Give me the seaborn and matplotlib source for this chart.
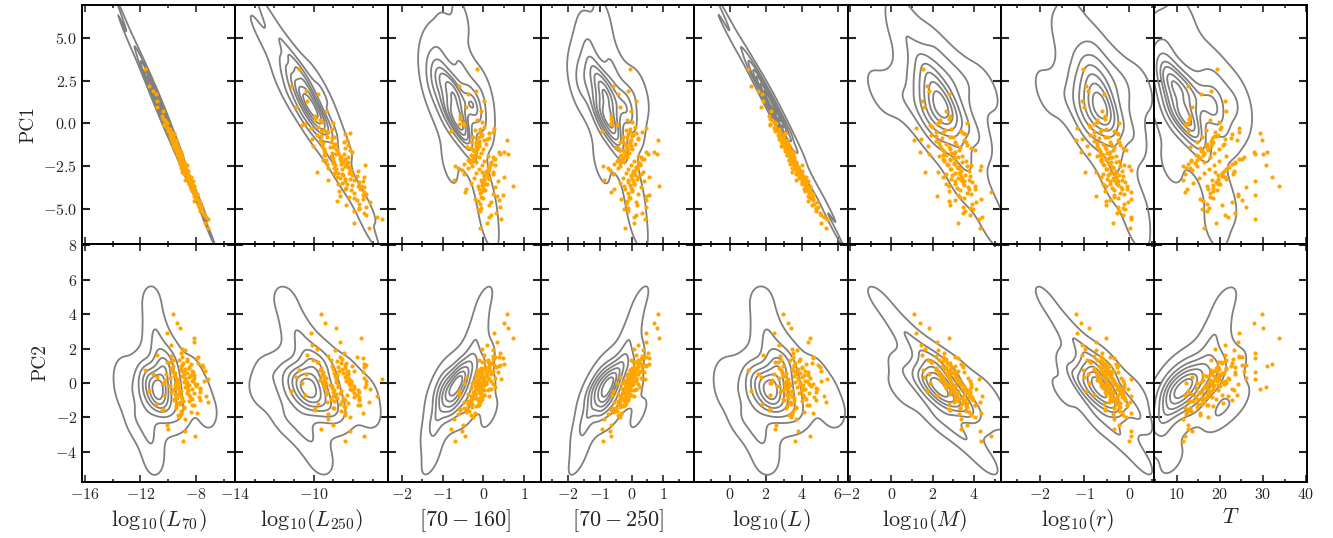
import matplotlib
matplotlib.use("Agg")
import matplotlib.pyplot as plt
import matplotlib.ticker as mticker
import seaborn as sns

# parent sample (grey contours)
pc1_bg = [-6.2, -4.6, -3.4, -2.4, -1.5, -0.9, -0.61, -0.46, -0.32, -0.21,
          -0.10, 0.02, 0.13, 0.22, 0.32, 0.40, 0.50, 0.58, 0.67, 0.75,
          0.83, 0.91, 0.99, 1.07, 1.15, 1.25, 1.33, 1.41, 1.49, 1.57,
          1.65, 1.73, 1.82, 1.90, 2.00, 2.08, 2.18, 2.27, 2.38, 2.50,
          2.61, 2.72, 2.86, 3.01, 3.17, 3.34, 3.7, 4.4, 5.2, 6.2]
pc2_bg = [-1.78, -0.46, 0.67, -1.66, -0.40, 0.76, -1.55, -0.34, 0.84, -1.44,
          -0.26, 0.95, -1.36, -0.20, 1.06, -1.27, -0.14, 1.18, -1.19, -0.08,
          1.31, -1.10, -0.02, 1.7, -1.03, 0.04, 2.4, -0.96, 0.10, 3.3,
          -0.90, 0.17, 4.8, -0.83, 0.23, -4.5, -0.77, 0.30, -3.3, -0.70,
          0.36, -2.6, -0.64, 0.43, -2.1, -0.58, 0.50, -1.91, -0.52, 0.59]
l70_bg = [-7.13, -7.72, -8.45, -9.09, -9.33, -9.75, -9.62, -9.90, -10.09, -9.93,
          -10.11, -10.34, -10.16, -10.32, -10.13, -10.34, -10.52, -10.34, -10.51, -10.75,
          -10.52, -10.68, -10.50, -10.69, -10.86, -10.69, -10.85, -10.58, -10.86, -11.02,
          -10.86, -11.03, -11.22, -11.03, -11.20, -11.00, -11.22, -11.39, -11.23, -11.42,
          -11.65, -11.46, -11.65, -11.50, -11.72, -11.94, -11.92, -12.39, -13.03, -13.21]
l250_bg = [-7.21, -7.39, -8.39, -9.00, -8.87, -9.59, -8.67, -9.45, -9.98, -9.17,
           -9.72, -10.38, -9.49, -10.00, -9.47, -9.76, -10.30, -9.83, -9.98, -10.72,
           -10.09, -10.23, -9.74, -10.37, -10.52, -10.03, -10.65, -9.44, -10.28, -10.98,
           -10.00, -10.53, -11.45, -10.26, -10.75, -9.61, -10.52, -11.05, -10.10, -10.80,
           -11.44, -10.49, -11.10, -10.60, -10.84, -11.45, -11.11, -11.51, -12.69, -12.31]
c160_bg = [0.15, 0.09, -0.03, -0.83, -0.31, -0.34, -0.37, -0.48, -0.46, -0.57,
           -0.56, -0.61, -0.69, -0.66, -0.02, -0.77, -0.78, -0.16, -0.85, -0.97,
           -0.24, -0.93, -0.36, -0.27, -1.04, -0.48, -0.21, -0.37, -0.57, -0.14,
           -0.65, -0.66, 0.02, -0.74, -0.73, -1.29, -0.83, -0.85, -1.22, -0.93,
           -1.01, -1.21, -1.03, -0.46, -1.22, -1.15, -0.63, -1.1, -0.9, -0.55]
c250_bg = [0.22, 0.10, 0.04, -0.95, -0.36, -0.32, -0.52, -0.55, -0.45, -0.71,
           -0.63, -0.60, -0.83, -0.73, 0.00, -0.92, -0.85, -0.14, -0.99, -1.04,
           -0.22, -1.08, -0.43, -0.22, -1.19, -0.55, -0.12, -0.52, -0.64, 0.01,
           -0.79, -0.73, 0.27, -0.88, -0.81, -1.70, -0.98, -0.92, -1.55, -1.08,
           -1.09, -1.50, -1.19, -0.54, -1.48, -1.31, -0.72, -1.4, -1.3, -0.9]
lum_bg = [5.78, 5.27, 4.52, 3.85, 3.68, 3.23, 3.43, 3.11, 2.89, 3.10,
          2.88, 2.62, 2.86, 2.67, 2.92, 2.67, 2.46, 2.69, 2.49, 2.20,
          2.50, 2.31, 2.55, 2.33, 2.12, 2.34, 2.15, 2.50, 2.17, 1.98,
          2.19, 1.99, 1.76, 2.01, 1.81, 2.07, 1.81, 1.60, 1.82, 1.60,
          1.33, 1.58, 1.36, 1.57, 1.31, 1.06, 1.14, 0.65, -0.04, -0.14]
mass_bg = [5.02, 4.57, 3.32, 3.65, 3.44, 2.39, 4.15, 2.96, 2.04, 3.66,
           2.71, 1.64, 3.35, 2.45, 2.55, 3.09, 2.16, 2.18, 2.87, 1.75,
           1.90, 2.61, 2.73, 1.51, 2.33, 2.45, 1.02, 3.41, 2.21, 0.40,
           2.86, 1.97, -0.56, 2.61, 1.76, 4.56, 2.36, 1.47, 3.69, 2.10,
           1.10, 3.09, 1.82, 1.96, 2.63, 1.51, 1.51, 2.04, 0.47, 0.58]
rad_bg = [0.18, 0.16, -0.37, -0.32, -0.26, -0.72, 0.11, -0.46, -0.87, -0.13,
          -0.57, -1.06, -0.28, -0.69, -0.51, -0.40, -0.83, -0.70, -0.51, -1.04,
          -0.83, -0.62, -0.46, -1.00, -0.76, -0.59, -1.20, -0.12, -0.71, -1.46,
          -0.41, -0.82, -1.86, -0.53, -0.92, 0.28, -0.65, -1.06, -0.10, -0.77,
          -1.24, -0.35, -0.90, -0.71, -0.54, -1.04, -0.92, -0.78, -1.49, -1.26]
temp_bg = [19.0, 21.1, 18.4, 8.8, 16.2, 15.6, 20.8, 14.1, 14.4, 14.6,
           13.2, 12.6, 12.1, 12.1, 23.5, 10.8, 10.8, 19.4, 10.0, 8.5,
           17.9, 9.0, 18.3, 17.4, 7.8, 15.6, 18.2, 24.2, 13.9, 19.2,
           14.4, 12.8, 21.3, 12.4, 12.0, 8.9, 10.9, 10.7, 7.3, 9.8,
           8.8, 6.6, 8.6, 18.5, 6.5, 7.4, 14.8, 6.2, 8.0, 11.4]

# selected sources (orange points)
pc1_obs = [-6.1, -5.6, -5.36, -5.10, -4.88, -4.70, -4.54, -4.41, -4.29, -4.17,
           -4.07, -3.97, -3.86, -3.78, -3.69, -3.61, -3.52, -3.44, -3.37, -3.30,
           -3.23, -3.15, -3.08, -3.02, -2.95, -2.90, -2.83, -2.76, -2.70, -2.64,
           -2.57, -2.51, -2.45, -2.39, -2.33, -2.27, -2.21, -2.15, -2.09, -2.03,
           -1.96, -1.90, -1.84, -1.77, -1.71, -1.65, -1.58, -1.52, -1.45, -1.37,
           -1.30, -1.23, -1.16, -1.08, -0.99, -0.91, -0.82, -0.74, -0.63, -0.53,
           -0.43, -0.31, -0.19, -0.06, 0.10, 0.28, 0.7, 1.3, 2.2, 3.2,
           -5.85, -5.45, -5.22, -4.98, -4.79, -4.62, -4.47, -4.35, -4.23, -4.12,
           -4.02, -3.92, -3.82, -3.73, -3.65, -3.56, -3.48, -3.40, -3.33, -3.26,
           -3.19, -3.11, -3.05, -2.98, -2.92, -2.86, -2.80, -2.73, -2.67, -2.60,
           -2.54, -2.48, -2.42, -2.36, -2.30, -2.24, -2.18, -2.12, -2.06, -1.99,
           -1.93, -1.87, -1.80, -1.74, -1.68, -1.61, -1.55, -1.48, -1.41, -1.33,
           -1.26, -1.19, -1.12, -1.03, -0.95, -0.86, -0.78, -0.68, -0.58, -0.48,
           -0.37, -0.25, -0.12, 0.02, 0.19, 0.45, 0.95, 1.7, 1.9, -5.0]
pc2_obs = [-1.13, 0.23, 0.10, -0.27, 1.06, -0.83, 0.44, -1.75, -0.06, 1.43,
           -0.58, 0.68, -1.27, 0.14, 2.6, -0.36, 0.94, -0.94, 0.36, -2.07,
           -0.14, 1.27, -0.68, 0.58, -1.43, 0.06, 1.9, -0.44, 0.83, -1.06,
           0.27, -3.4, -0.23, 1.13, -0.77, 0.49, -1.62, -0.02, 1.52, -0.53,
           0.72, -1.20, 0.18, 3.2, -0.31, 1.00, -0.89, 0.40, -1.89, -0.10,
           1.35, -0.63, 0.63, -1.35, 4.0, 2.2, -0.40, 0.89, -1.00, 0.31,
           -2.7, -0.18, 1.20, -0.72, 0.53, -1.52, 0.02, 1.62, -0.49, 0.77,
           0.70, -0.75, 0.92, -0.55, 1.17, -0.38, 1.48, -0.20, 2.4, -0.04,
           -3.1, 0.12, -1.69, 0.29, -1.31, 0.47, -1.03, 0.65, -0.80, 0.86,
           -0.60, 1.10, -0.42, 1.39, -0.25, 2.0, -0.08, -2.8, 0.08, -1.82,
           0.25, -1.39, 0.42, -1.09, 0.61, -0.86, 0.80, -0.65, 1.03, -0.46,
           1.31, -0.29, 1.72, -0.12, 3.5, 0.04, -2.0, 0.21, -1.48, 0.38,
           -1.16, 0.56, -0.91, 0.75, -0.70, 0.97, -0.51, 1.24, -0.33, 1.58,
           -0.16, 2.9, 0.00, -2.45, 0.16, -1.57, 0.34, -1.23, 0.51, -0.97]
l70_obs = [-7.15, -7.16, -7.45, -7.71, -7.61, -7.82, -8.12, -7.91, -8.09, -7.93,
           -8.13, -8.32, -8.16, -8.32, -8.13, -8.33, -8.51, -8.33, -8.50, -8.79,
           -8.50, -8.66, -8.49, -8.65, -8.84, -8.64, -8.80, -8.60, -8.79, -8.95,
           -8.78, -8.93, -8.64, -8.92, -9.08, -8.90, -9.06, -9.26, -9.05, -9.20,
           -9.01, -9.19, -9.36, -9.18, -9.33, -9.09, -9.34, -9.49, -9.32, -9.49,
           -9.69, -9.49, -9.64, -9.47, -9.66, -9.84, -9.67, -9.83, -9.62, -9.86,
           -10.04, -9.89, -10.08, -10.34, -10.15, -10.36, -10.36, -10.80, -11.39, -11.68,
           -7.39, -7.31, -7.52, -7.71, -7.90, -7.71, -7.88, -8.01, -8.17, -7.95,
           -8.09, -8.21, -8.36, -8.12, -8.27, -8.39, -8.52, -8.26, -8.43, -8.53,
           -8.65, -8.36, -8.55, -8.66, -8.77, -9.01, -8.67, -8.77, -8.89, -9.07,
           -8.78, -8.90, -9.00, -9.15, -8.89, -9.01, -9.11, -9.25, -9.00, -9.12,
           -9.22, -9.36, -9.11, -9.24, -9.35, -9.47, -9.22, -9.36, -9.47, -9.59,
           -9.34, -9.50, -9.60, -9.73, -9.46, -9.65, -9.77, -9.89, -9.57, -9.83,
           -9.97, -10.10, -10.33, -10.06, -10.23, -10.44, -10.82, -10.89, -11.08, -7.71]
l250_obs = [-7.18, -6.52, -7.31, -7.93, -7.31, -7.69, -8.79, -7.47, -8.19, -7.49,
            -7.93, -8.70, -7.65, -8.33, -7.61, -8.05, -8.77, -7.71, -8.42, -9.26,
            -8.13, -8.80, -7.79, -8.49, -8.97, -8.19, -8.90, -7.75, -8.55, -8.94,
            -8.25, -8.41, -7.40, -8.61, -8.99, -8.25, -8.61, -9.50, -8.67, -8.99,
            -8.25, -8.68, -9.45, -8.88, -9.05, -8.06, -8.80, -9.45, -8.40, -9.17,
            -10.04, -8.87, -9.53, -8.46, -9.63, -10.09, -8.97, -9.63, -8.39, -9.36,
            -9.65, -9.05, -9.79, -10.45, -9.55, -9.92, -9.35, -10.36, -11.13, -10.77,
            -7.96, -6.79, -7.45, -7.70, -8.36, -7.12, -7.77, -7.95, -8.66, -7.32,
            -7.45, -8.12, -8.38, -7.41, -7.74, -8.30, -8.54, -7.49, -7.92, -8.42,
            -8.65, -7.45, -8.03, -8.54, -8.75, -9.85, -8.12, -8.17, -8.84, -9.28,
            -8.21, -8.42, -8.93, -9.30, -8.30, -8.52, -9.01, -9.35, -8.39, -8.62,
            -9.12, -9.44, -8.47, -8.76, -9.44, -9.48, -8.15, -8.85, -9.01, -9.58,
            -8.26, -8.96, -9.14, -9.69, -8.28, -9.09, -9.32, -9.84, -8.17, -9.26,
            -9.48, -10.14, -10.60, -9.01, -9.70, -9.93, -10.88, -9.79, -10.40, -7.70]
c160_obs = [-0.09, 0.43, 0.18, -0.07, 0.41, -0.09, -0.14, -0.20, -0.05, 0.48,
            -0.07, -0.03, -0.11, -0.01, 0.72, -0.02, 0.04, -0.03, 0.03, -0.73,
            0.02, 0.12, 0.02, 0.08, -0.48, 0.07, 0.25, 0.11, 0.14, -0.37,
            0.12, -0.70, 0.28, 0.20, -0.31, 0.18, -0.36, -0.29, 0.28, -0.24,
            0.25, -0.28, -0.21, 0.60, -0.19, 0.39, -0.23, -0.15, -0.31, -0.16,
            -0.11, -0.17, -0.10, -0.19, 0.59, 0.08, -0.12, -0.05, -0.06, -0.07,
            -0.79, -0.07, 0.01, -0.59, -0.04, -0.57, -0.05, 0.02, -0.59, -0.15,
            0.08, 0.15, 0.32, -0.05, 0.13, 0.18, 0.39, -0.01, 0.33, 0.23,
            -0.45, 0.04, -0.42, 0.30, -0.13, 0.08, -0.30, 0.37, -0.06, 0.15,
            -0.23, 0.50, 0.01, 0.24, -0.17, -0.02, 0.07, -0.52, -0.11, -0.63,
            0.13, -0.28, -0.04, -0.47, 0.19, -0.18, 0.03, -0.38, 0.27, -0.11,
            0.12, -0.31, 0.41, -0.06, 0.50, -0.24, -0.26, 0.00, -0.40, -0.18,
            -0.10, 0.06, -0.30, -0.11, 0.01, 0.13, -0.25, -0.03, 0.15, 0.23,
            -0.20, 0.26, -0.48, -0.51, -0.16, -0.58, -0.43, -0.38, -0.18, -0.14]
c250_obs = [-0.20, 0.41, 0.15, -0.12, 0.45, -0.16, -0.14, -0.32, -0.07, 0.55,
            -0.12, 0.00, -0.21, -0.02, 0.86, -0.06, 0.08, -0.10, 0.04, -0.86,
            0.00, 0.19, -0.03, 0.11, -0.58, 0.06, 0.35, 0.07, 0.18, -0.44,
            0.13, -0.91, 0.26, 0.27, -0.36, 0.21, -0.46, -0.29, 0.38, -0.27,
            0.30, -0.35, -0.20, 0.79, -0.20, 0.45, -0.27, -0.12, -0.42, -0.16,
            -0.02, -0.20, -0.05, -0.26, 0.84, 0.22, -0.14, 0.02, -0.11, -0.04,
            -0.93, -0.06, 0.10, -0.61, 0.01, -0.64, -0.02, 0.15, -0.58, -0.06,
            0.08, 0.07, 0.34, -0.11, 0.17, 0.14, 0.45, -0.05, 0.45, 0.21,
            -0.65, 0.03, -0.54, 0.30, -0.23, 0.09, -0.38, 0.40, -0.12, 0.18,
            -0.27, 0.55, -0.03, 0.31, -0.19, 0.09, 0.06, -0.69, -0.11, -0.75,
            0.14, -0.37, -0.02, -0.54, 0.23, -0.23, 0.07, -0.42, 0.33, -0.14,
            0.20, -0.33, 0.51, -0.07, 0.71, -0.23, -0.38, 0.01, -0.48, -0.15,
            -0.16, 0.10, -0.35, -0.06, -0.02, 0.20, -0.27, 0.06, 0.14, 0.34,
            -0.19, 0.45, -0.46, -0.64, -0.13, -0.65, -0.38, -0.42, -0.11, -0.23]
lum_obs = [5.32, 5.38, 5.05, 4.76, 4.91, 4.68, 4.33, 4.61, 4.40, 4.62,
           4.39, 4.16, 4.38, 4.19, 4.45, 4.20, 3.99, 4.22, 4.02, 3.67,
           4.05, 3.86, 4.08, 3.88, 3.66, 3.92, 3.73, 3.99, 3.76, 3.57,
           3.79, 3.61, 3.99, 3.64, 3.45, 3.69, 3.50, 3.26, 3.53, 3.35,
           3.59, 3.38, 3.17, 3.41, 3.23, 3.54, 3.24, 3.06, 3.28, 3.08,
           2.83, 3.10, 2.92, 3.15, 2.93, 2.71, 2.93, 2.75, 3.02, 2.73,
           2.52, 2.73, 2.51, 2.21, 2.46, 2.23, 2.29, 1.83, 1.21, 1.00,
           5.05, 5.22, 4.99, 4.78, 4.57, 4.83, 4.64, 4.49, 4.32, 4.61,
           4.44, 4.30, 4.13, 4.45, 4.28, 4.13, 3.99, 4.32, 4.12, 4.00,
           3.86, 4.24, 4.00, 3.88, 3.75, 3.46, 3.90, 3.78, 3.64, 3.43,
           3.79, 3.66, 3.54, 3.36, 3.69, 3.56, 3.44, 3.27, 3.59, 3.45,
           3.33, 3.17, 3.49, 3.33, 3.21, 3.07, 3.39, 3.22, 3.10, 2.95,
           3.28, 3.10, 2.97, 2.82, 3.18, 2.95, 2.81, 2.67, 3.09, 2.79,
           2.63, 2.48, 2.21, 2.56, 2.37, 2.16, 1.75, 1.77, 1.57, 4.78]
mass_obs = [4.31, 4.24, 3.81, 3.56, 3.49, 3.90, 2.81, 4.34, 3.34, 3.25,
            3.67, 2.78, 4.07, 3.19, 2.78, 3.53, 2.65, 3.93, 3.06, 3.38,
            3.40, 2.52, 3.79, 2.94, 3.34, 3.30, 2.25, 3.74, 2.82, 3.23,
            3.20, 4.35, 3.88, 2.69, 3.10, 3.12, 3.62, 2.55, 2.52, 3.02,
            3.04, 3.44, 2.51, 1.82, 2.91, 3.06, 3.26, 2.43, 3.84, 2.77,
            1.76, 3.13, 2.31, 3.62, 1.10, 1.44, 3.00, 2.16, 3.55, 2.52,
            3.37, 2.87, 1.96, 2.21, 2.33, 2.81, 2.63, 1.48, 1.74, 1.52,
            3.21, 4.41, 3.45, 3.80, 2.82, 4.09, 3.07, 3.53, 2.22, 3.86,
            4.82, 3.32, 3.78, 3.69, 4.04, 3.09, 3.46, 3.52, 3.75, 2.89,
            3.25, 3.39, 3.56, 2.64, 3.07, 1.65, 3.39, 4.28, 2.91, 3.29,
            3.23, 3.66, 2.74, 3.03, 3.05, 3.41, 2.56, 2.85, 2.85, 3.22,
            2.32, 2.67, 2.57, 3.02, 1.38, 2.54, 4.03, 2.86, 3.34, 2.36,
            3.68, 2.67, 3.06, 2.17, 3.51, 2.46, 2.82, 1.91, 3.45, 2.15,
            2.61, 1.17, 1.88, 3.67, 2.37, 2.82, 1.60, 2.79, 1.83, 3.94]
rad_obs = [0.02, 0.03, -0.14, -0.24, -0.26, -0.11, -0.53, 0.04, -0.33, -0.35,
           -0.20, -0.54, -0.04, -0.38, -0.52, -0.25, -0.59, -0.10, -0.43, -0.33,
           -0.30, -0.64, -0.15, -0.48, -0.34, -0.34, -0.74, -0.17, -0.52, -0.38,
           -0.38, 0.00, -0.11, -0.58, -0.43, -0.41, -0.23, -0.64, -0.64, -0.46,
           -0.44, -0.30, -0.66, -0.90, -0.50, -0.43, -0.36, -0.68, -0.14, -0.55,
           -0.95, -0.41, -0.73, -0.23, -1.18, -1.06, -0.47, -0.79, -0.25, -0.65,
           -0.34, -0.51, -0.87, -0.78, -0.72, -0.55, -0.61, -1.05, -0.97, -1.04,
           -0.37, 0.03, -0.27, -0.15, -0.52, -0.03, -0.42, -0.25, -0.75, -0.12,
           0.03, -0.33, -0.16, -0.18, -0.06, -0.42, -0.29, -0.25, -0.17, -0.50,
           -0.37, -0.29, -0.24, -0.59, -0.43, -0.98, -0.30, 0.03, -0.50, -0.36,
           -0.37, -0.21, -0.56, -0.46, -0.43, -0.30, -0.63, -0.53, -0.51, -0.38,
           -0.72, -0.59, -0.61, -0.45, -1.07, -0.65, -0.07, -0.52, -0.34, -0.71,
           -0.20, -0.59, -0.44, -0.79, -0.26, -0.67, -0.54, -0.88, -0.28, -0.79,
           -0.62, -1.16, -0.91, -0.22, -0.71, -0.55, -1.02, -0.56, -0.92, -0.09]
temp_obs = [16.4, 28.2, 21.2, 17.1, 26.0, 16.9, 16.1, 15.4, 17.7, 28.1,
            17.6, 18.3, 17.2, 18.5, 33.6, 18.4, 19.5, 19.1, 19.5, 11.5,
            19.5, 21.1, 20.6, 20.4, 12.0, 20.6, 23.2, 23.3, 21.5, 13.0,
            21.8, 11.5, 30.8, 22.8, 14.2, 23.6, 13.3, 14.6, 24.5, 15.5,
            25.7, 14.9, 16.0, 30.1, 16.4, 30.9, 15.9, 17.2, 15.5, 17.1,
            17.9, 17.1, 18.2, 18.4, 29.7, 21.2, 18.3, 19.2, 22.9, 18.9,
            12.5, 20.0, 20.3, 12.0, 19.8, 12.8, 21.5, 21.2, 12.5, 19.4,
            19.2, 21.8, 23.5, 17.4, 20.5, 22.9, 25.1, 18.4, 24.1, 24.2,
            12.0, 19.3, 12.3, 26.1, 16.9, 20.1, 13.8, 28.2, 18.2, 21.4,
            15.2, 32.1, 19.6, 23.1, 16.4, 18.8, 20.9, 13.5, 17.4, 12.2,
            22.1, 14.7, 18.6, 12.5, 23.5, 16.4, 19.8, 13.2, 25.1, 17.8,
            21.4, 14.4, 28.1, 18.6, 27.9, 15.7, 17.3, 19.8, 13.0, 16.8,
            20.8, 21.0, 14.8, 18.0, 24.0, 22.5, 15.8, 19.5, 29.4, 24.5,
            16.8, 24.5, 12.2, 12.5, 17.7, 13.0, 13.6, 15.6, 18.0, 15.9]

x_labels = [r'$\mathrm{log}_{10}(L_{70})$', r'$\mathrm{log}_{10}(L_{250})$',
            r'$[70-160]$', r'$[70-250]$',
            r'$\mathrm{log}_{10}(L)$', r'$\mathrm{log}_{10}(M)$',
            r'$\mathrm{log}_{10}(r)$', r'$T$']
y_labels = ['PC1', 'PC2']

feats_bg = [l70_bg, l250_bg, c160_bg, c250_bg, lum_bg, mass_bg, rad_bg, temp_bg]
feats_obs = [l70_obs, l250_obs, c160_obs, c250_obs, lum_obs, mass_obs, rad_obs, temp_obs]
pcs_bg = [pc1_bg, pc2_bg]
pcs_obs = [pc1_obs, pc2_obs]

# axis setup per column: limits, (major step, offset), minor step
xlims = [(-16.2, -5.2), (-14.0, -6.2), (-2.34, 1.43), (-2.85, 1.99),
         (-1.94, 6.53), (-2.12, 5.3), (-2.87, 0.55), (4.7, 40.2)]
x_major = [(4, 0), (4, 2), (1, 0), (1, 0), (2, 0), (2, 0), (1, 0), (10, 0)]
x_minor = [2, 1, 0.5, 0.5, 1, 1, 0.5, 5]
ylims = [(-7.03, 6.92), (-5.76, 8.1)]
y_major = [2.5, 2]
outer_level = [0.05]
inner_levels = [0.25, 0.42, 0.57, 0.7, 0.82, 0.92]

sns.set_style("ticks")
plt.rcParams['font.family'] = 'serif'
plt.rcParams['font.serif'] = ['cmr10', 'DejaVu Serif']
plt.rcParams['mathtext.fontset'] = 'cm'
plt.rcParams['axes.formatter.use_mathtext'] = True
plt.rcParams['axes.linewidth'] = 1.4
plt.rcParams['axes.edgecolor'] = 'black'

fig, axes = plt.subplots(2, 8, figsize=(13.33, 5.38), dpi=100, sharex='col', sharey='row')
plt.subplots_adjust(left=0.0615, right=0.9805, top=0.9907, bottom=0.104, wspace=0, hspace=0)

for r in range(2):
    for c in range(8):
        ax = axes[r, c]
        # outer envelope, then the tighter inner rings
        sns.kdeplot(x=feats_bg[c], y=pcs_bg[r], levels=outer_level, bw_adjust=1.0,
                    color='#808080', linewidths=1.3, ax=ax)
        sns.kdeplot(x=feats_bg[c], y=pcs_bg[r], levels=inner_levels, bw_adjust=0.8,
                    color='#808080', linewidths=1.3, ax=ax)
        sns.scatterplot(x=feats_obs[c], y=pcs_obs[r], color='#FFA500', s=9,
                        linewidth=0, ax=ax, zorder=3)
        ax.set_xlim(*xlims[c])
        ax.set_ylim(*ylims[r])
        step, off = x_major[c]
        ax.xaxis.set_major_locator(mticker.MultipleLocator(step, offset=off))
        ax.xaxis.set_minor_locator(mticker.MultipleLocator(x_minor[c]))
        ax.yaxis.set_major_locator(mticker.MultipleLocator(y_major[r]))
        ax.tick_params(axis='x', which='both', direction='in', top=True, bottom=True,
                       width=1.2, labelsize=11.5)
        ax.tick_params(axis='x', which='major', length=5)
        ax.tick_params(axis='x', which='minor', length=2.5)
        ax.tick_params(axis='y', which='major', direction='in', left=True, right=True,
                       length=6, width=1.5, labelsize=11.5)
        ax.set_xlabel(x_labels[c] if r == 1 else '', fontsize=16)
        ax.set_ylabel(y_labels[r] if c == 0 else '', fontsize=14)

plt.savefig("out.png", dpi=100)
